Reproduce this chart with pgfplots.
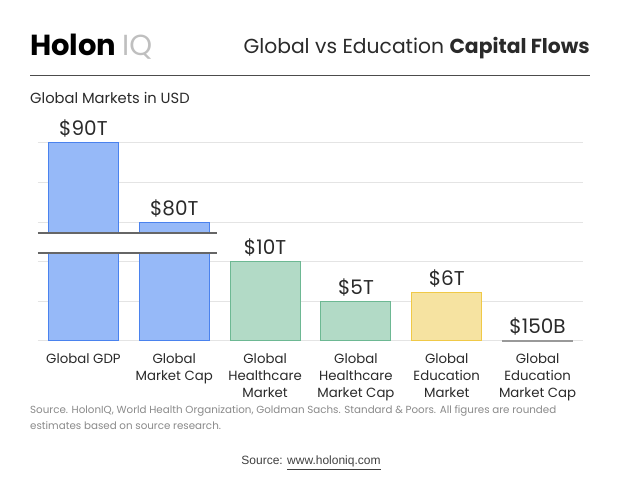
\documentclass[border=0pt]{standalone}
\usepackage{fontspec}
\setmainfont{Poppins}
\newfontfamily\arialfont{Liberation Sans}
\usepackage{pgfplots}
\pgfplotsset{compat=1.18}
\definecolor{bluefill}{HTML}{96B9F8}
\definecolor{blueedge}{HTML}{4A82EE}
\definecolor{greenfill}{HTML}{B2DAC6}
\definecolor{greenedge}{HTML}{6DB893}
\definecolor{yellowfill}{HTML}{F6E3A1}
\definecolor{yellowedge}{HTML}{F0C947}
\definecolor{gridc}{HTML}{E4E4E4}
\definecolor{txt}{HTML}{2A2A2A}
\definecolor{foot}{HTML}{8A8A8A}
\begin{document}
\begin{tikzpicture}
\path[use as bounding box, fill=white] (0pt,0pt) rectangle (630pt,478pt);
% header
\node[anchor=base west, inner sep=0, font=\fontsize{29}{30}\selectfont\bfseries, text=black] at (30pt,422pt) {Holon};
\node[anchor=base west, inner sep=0, font=\fontsize{29}{30}\selectfont, text=black!25] at (122pt,422pt) {IQ};
\node[anchor=base east, inner sep=0, font=\fontsize{20.3}{22}\selectfont, text=txt] at (590pt,424pt) {Global vs Education \textbf{Capital Flows}};
\draw[black!70, line width=0.8pt] (30pt,403pt) -- (590pt,403pt);
\node[anchor=base west, inner sep=0, font=\fontsize{14.7}{16}\selectfont, text=txt] at (30pt,374pt) {Global Markets in USD};
% chart
\begin{axis}[
  at={(38pt,137pt)}, anchor=south west,
  scale only axis, width=545pt, height=198pt,
  xmin=-0.5, xmax=5.5, ymin=0, ymax=25,
  ybar, bar width=70pt, bar shift=0pt,
  axis line style={draw=none},
  ytick={0,5,10,15,20,25}, yticklabels={},
  ymajorgrids, grid style={gridc, line width=1pt},
  major tick style={draw=none},
  xtick={0,1,2,3,4,5},
  xticklabels={Global GDP, {Global\\Market Cap}, {Global\\Healthcare\\Market}, {Global\\Healthcare\\Market Cap}, {Global\\Education\\Market}, {Global\\Education\\Market Cap}},
  xticklabel style={align=center, font=\fontsize{13.3}{17}\selectfont, text=txt, anchor=north, yshift=-5pt},
  clip=false,
  nodes near coords, point meta=explicit symbolic,
  nodes near coords style={font=\fontsize{20}{22}\selectfont, text=txt, anchor=south, yshift=1.5pt},
]
\addplot[fill=bluefill, draw=blueedge, line width=1pt] coordinates {(0,25) [\$90T] (1,15) [\$80T]};
\addplot[fill=greenfill, draw=greenedge, line width=1pt] coordinates {(2,10) [\$10T] (3,5) [\$5T]};
\addplot[fill=yellowfill, draw=yellowedge, line width=1pt] coordinates {(4,6.1) [\$6T]};
\addplot[fill=black!35, draw=black!40, line width=0.8pt] coordinates {(5,0.12) [\$150B]};
\fill[white] (axis cs:-0.52,11.1) rectangle (axis cs:1.47,13.6);
\draw[black!60, line width=1.6pt] (axis cs:-0.5,11.1) -- (axis cs:1.47,11.1);
\draw[black!60, line width=1.6pt] (axis cs:-0.5,13.6) -- (axis cs:1.47,13.6);
\end{axis}
% footnotes
\node[anchor=base west, inner sep=0, font=\fontsize{10.3}{12}\selectfont, text=foot] at (30pt,64pt) {Source. HolonIQ, World Health Organization, Goldman Sachs. Standard \& Poors. All figures are rounded};
\node[anchor=base west, inner sep=0, font=\fontsize{10.3}{12}\selectfont, text=foot] at (30pt,48pt) {estimates based on source research.};
\node[anchor=base, inner sep=0, font=\arialfont\fontsize{12}{13}\selectfont, text=black!75] at (311pt,13pt) {Source: \underline{www.holoniq.com}};
\end{tikzpicture}
\end{document}
